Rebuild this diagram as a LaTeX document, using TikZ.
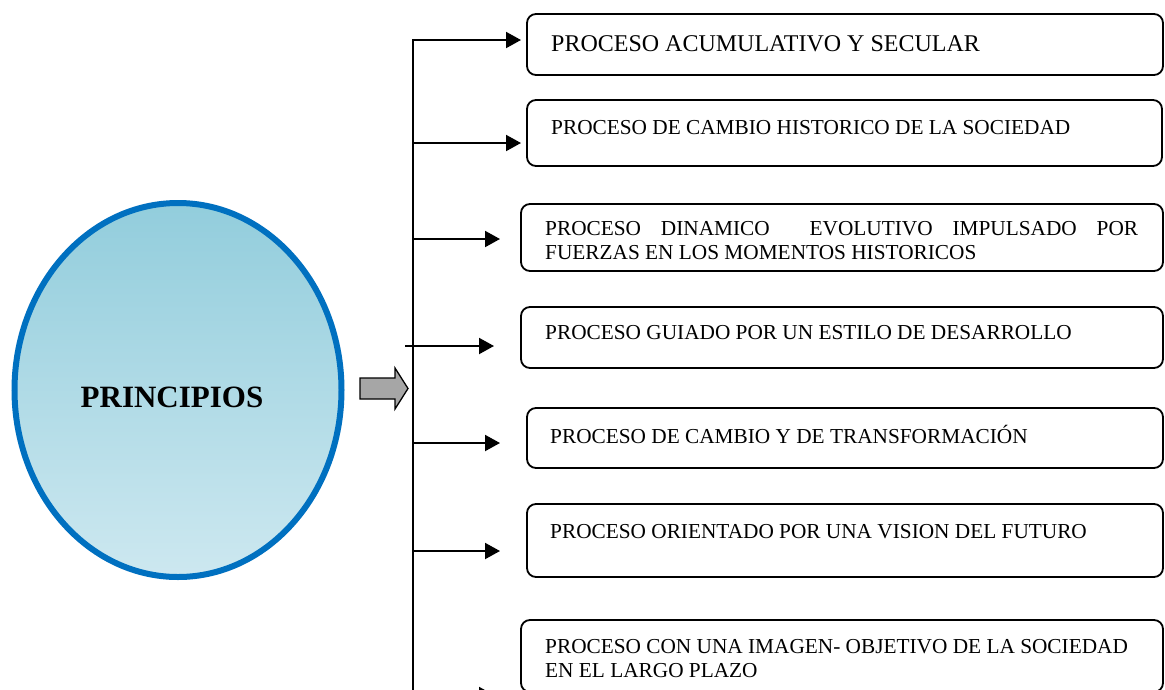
\documentclass[tikz,border=0pt]{standalone}
\usepackage{fontspec}
\setmainfont{Liberation Serif}
\newfontfamily\titlefont{Liberation Serif}
\usetikzlibrary{arrows.meta,shapes.geometric}
\definecolor{ringblue}{HTML}{0070C0}
\definecolor{filltop}{HTML}{92CDDC}
\definecolor{fillbot}{HTML}{CDE8F0}
\definecolor{arrowgray}{HTML}{A6A6A6}
\begin{document}
\begin{tikzpicture}[x=1pt,y=-1pt,
  box/.style={draw, line width=1.8pt, rounded corners=9pt, inner sep=0pt},
  lbl/.style={anchor=base west, inner sep=0pt,
    font=\fontsize{21.3}{24.5}\selectfont},
  biglbl/.style={anchor=base west, inner sep=0pt,
    font=\fontsize{24}{27}\selectfont},
  conn/.style={line width=2pt, -{Triangle[length=15pt,width=16pt]}}]
\clip (0,0) rectangle (1165,689);
\fill[white] (0,0) rectangle (1165,689);

% central ellipse
\node[ellipse, draw=ringblue, line width=6pt, top color=filltop, bottom color=fillbot,
  minimum width=327pt, minimum height=374pt, inner sep=0pt] (p) at (178,390) {};
\node[inner sep=0pt, font=\titlefont\bfseries\fontsize{31}{36}\selectfont] (pt) at (172,397) {PRINCIPIOS};

% gray block arrow
\draw[fill=arrowgray, line width=1.3pt, line join=miter]
  (360,378) -- (395,378) -- (395,368) -- (408,388.5) -- (395,409) -- (395,399) -- (360,399) -- cycle;
\coordinate (ga) at (384,388);

% boxes
\node[box, minimum width=636pt, minimum height=61pt] (b1) at (845,44.5) {};
\node[box, minimum width=635pt, minimum height=66pt] (b2) at (844.5,133) {};
\node[box, minimum width=642pt, minimum height=67pt] (b3) at (842,237.5) {};
\node[box, minimum width=642pt, minimum height=61pt] (b4) at (842,337.5) {};
\node[box, minimum width=636pt, minimum height=60pt] (b5) at (845,438) {};
\node[box, minimum width=636pt, minimum height=73pt] (b6) at (845,540.5) {};
\node[box, minimum width=642pt, minimum height=72pt] (b7) at (842,656) {};

% texts
\node[biglbl] (t1) at (551,51) {PROCESO ACUMULATIVO Y SECULAR};
\node[lbl] (t2) at (551,134) {PROCESO DE CAMBIO HISTORICO DE LA SOCIEDAD};
\node[lbl] (t3a) at (545,235) {\makebox[593pt][s]{PROCESO DINAMICO\ \ EVOLUTIVO IMPULSADO POR}};
\node[lbl] (t3b) at (545,259) {FUERZAS EN LOS MOMENTOS HISTORICOS};
\node[lbl] (t4) at (545,339) {PROCESO GUIADO POR UN ESTILO DE DESARROLLO};
\node[lbl] (t5) at (550,443) {PROCESO DE CAMBIO Y DE TRANSFORMACIÓN};
\node[lbl] (t6) at (550,538) {PROCESO ORIENTADO POR UNA VISION DEL FUTURO};
\node[lbl] (t7a) at (545,653) {PROCESO CON UNA IMAGEN- OBJETIVO DE LA SOCIEDAD};
\node[lbl] (t7b) at (545,677) {EN EL LARGO PLAZO};

% connector points
\coordinate (tb) at (413,720);
\coordinate (e1) at (521,40);
\coordinate (j2) at (413,143);
\coordinate (e2) at (521,143);
\coordinate (j3) at (413,239);
\coordinate (e3) at (500,239);
\coordinate (j4) at (405,346);
\coordinate (e4) at (494,346);
\coordinate (j5) at (413,443);
\coordinate (e5) at (500,443);
\coordinate (j6) at (413,551);
\coordinate (e6) at (500,551);
\coordinate (j7) at (413,695);
\coordinate (e7) at (494,695);

\draw[conn] (tb) |- (e1);
\draw[conn] (j2) -- (e2);
\draw[conn] (j3) -- (e3);
\draw[conn] (j4) -- (e4);
\draw[conn] (j5) -- (e5);
\draw[conn] (j6) -- (e6);
\draw[conn] (j7) -- (e7);
\end{tikzpicture}
\end{document}
